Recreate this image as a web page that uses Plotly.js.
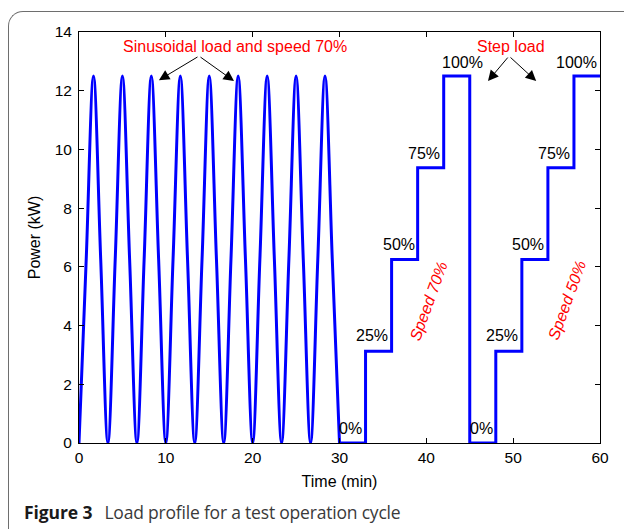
<!DOCTYPE html>
<html>
<head>
<meta charset="utf-8">
<script src="https://cdn.plot.ly/plotly-3.0.1.min.js"></script>
<style>
  html, body { margin: 0; padding: 0; background: #fff; }
  #wrap { position: relative; width: 624px; height: 529px; overflow: hidden; }
  #frame { position: absolute; left: 8px; top: 11px; width: 640px; height: 560px;
           border-top: 1.5px solid #6e6e6e; border-left: 1.5px solid #6e6e6e;
           border-top-left-radius: 15px; box-sizing: border-box; }
  #chart { position: absolute; left: 0; top: 0; width: 624px; height: 529px; }
  #caption { position: absolute; left: 24px; top: 500px; font-family: "Open Sans", "Noto Sans", sans-serif;
             font-size: 17.5px; color: #3a3a3a; white-space: nowrap; letter-spacing: -0.2px; }
  #caption b { color: #1a1a1a; font-weight: 700; margin-right: 12px; letter-spacing: -0.1px; }
</style>
</head>
<body>
<div id="wrap">
  <div id="frame"></div>
  <div id="chart"></div>
  <div id="caption"><b>Figure 3</b>Load profile for a test operation cycle</div>
</div>
<script>
// Sinusoidal part (read at troughs, quarter points and peaks)
const sineTime = [0, 0.83, 1.67, 2.5, 3.33, 4.17, 5, 5.83, 6.67, 7.5, 8.33, 9.17, 10,
  10.83, 11.67, 12.5, 13.33, 14.17, 15, 15.83, 16.67, 17.5, 18.33, 19.17, 20,
  20.83, 21.67, 22.5, 23.33, 24.17, 25, 25.83, 26.67, 27.5, 28.33, 29.17, 30];
const sinePower = [0, 6.25, 12.5, 6.25, 0, 6.25, 12.5, 6.25, 0, 6.25, 12.5, 6.25, 0,
  6.25, 12.5, 6.25, 0, 6.25, 12.5, 6.25, 0, 6.25, 12.5, 6.25, 0,
  6.25, 12.5, 6.25, 0, 6.25, 12.5, 6.25, 0, 6.25, 12.5, 6.25, 0];
// Step part
const stepTime = [30, 33, 36, 39, 42, 45, 48, 51, 54, 57, 60];
const stepPower = [0, 3.125, 6.25, 9.375, 12.5, 0, 3.125, 6.25, 9.375, 12.5, 12.5];
// Step labels
const labelText = ["0%", "25%", "50%", "75%", "100%", "0%", "25%", "50%", "75%", "100%"];
const labelX = [31.3, 33.7, 36.8, 39.7, 44.2, 46.3, 48.7, 51.7, 54.7, 57.3];
const labelY = [0.5, 3.65, 6.75, 9.85, 12.95, 0.5, 3.65, 6.75, 9.85, 12.95];
// Speed labels
const speedText = ["Speed 70%", "Speed 50%"];
const speedX = [40.3, 56.2];
const speedY = [4.85, 4.85];
// Arrow annotations
const arrowHeadX = [9.2, 17.85, 47.1, 52.65];
const arrowHeadY = [12.36, 12.33, 12.33, 12.33];
const arrowTailX = [13.82, 13.82, 49.52, 49.52];
const arrowTailY = [13.18, 13.18, 13.18, 13.18];

const FONT = "Liberation Sans, Arial, sans-serif";
const blue = "#0000ff";

const traces = [
  { x: sineTime, y: sinePower, type: "scatter", mode: "lines",
    line: { color: blue, width: 3, shape: "spline", smoothing: 1 }, hoverinfo: "skip" },
  { x: stepTime, y: stepPower, type: "scatter", mode: "lines",
    line: { color: blue, width: 3, shape: "hv" }, hoverinfo: "skip" }
];

const annotations = [];
labelText.forEach((t, i) => annotations.push({
  x: labelX[i], y: labelY[i], xref: "x", yref: "y", text: t, showarrow: false,
  font: { family: FONT, size: 16, color: "#000" }
}));
speedText.forEach((t, i) => annotations.push({
  x: speedX[i], y: speedY[i], xref: "x", yref: "y", text: "<i>" + t + "</i>", showarrow: false,
  textangle: -70, font: { family: FONT, size: 16, color: "#ff0000" }
}));
annotations.push({ x: 17.97, y: 13.5, xref: "x", yref: "y", text: "Sinusoidal load and speed 70%",
  showarrow: false, font: { family: FONT, size: 16, color: "#ff0000" } });
annotations.push({ x: 49.7, y: 13.5, xref: "x", yref: "y", text: "Step load",
  showarrow: false, font: { family: FONT, size: 16, color: "#ff0000" } });
arrowHeadX.forEach((hx, i) => annotations.push({
  x: hx, y: arrowHeadY[i], xref: "x", yref: "y", ax: arrowTailX[i], ay: arrowTailY[i],
  axref: "x", ayref: "y", text: "", showarrow: true, arrowhead: 2, arrowsize: 2.1,
  arrowwidth: 1, arrowcolor: "#000"
}));

const layout = {
  width: 624, height: 529,
  margin: { l: 79, r: 24, t: 32, b: 86 },
  paper_bgcolor: "rgba(0,0,0,0)", plot_bgcolor: "#fff",
  showlegend: false,
  font: { family: FONT, size: 15.5, color: "#000" },
  xaxis: {
    range: [0, 60], tickvals: [0, 10, 20, 30, 40, 50, 60], ticks: "inside", ticklen: 5,
    tickcolor: "#000", showline: true, linecolor: "#000", linewidth: 1, mirror: "ticks",
    showgrid: false, zeroline: false, tickfont: { family: FONT, size: 15.5 },
    title: { text: "Time (min)", font: { family: FONT, size: 16 }, standoff: 11 }
  },
  yaxis: {
    range: [0, 14], tickvals: [0, 2, 4, 6, 8, 10, 12, 14], ticks: "inside", ticklen: 5,
    tickcolor: "#000", showline: true, linecolor: "#000", linewidth: 1, mirror: "ticks",
    showgrid: false, zeroline: false, tickfont: { family: FONT, size: 15.5 }, ticklabelstandoff: 3,
    title: { text: "Power (kW)", font: { family: FONT, size: 16 }, standoff: 10 }
  },
  annotations: annotations
};

Plotly.newPlot("chart", traces, layout, { staticPlot: true, displayModeBar: false });
</script>
</body>
</html>
